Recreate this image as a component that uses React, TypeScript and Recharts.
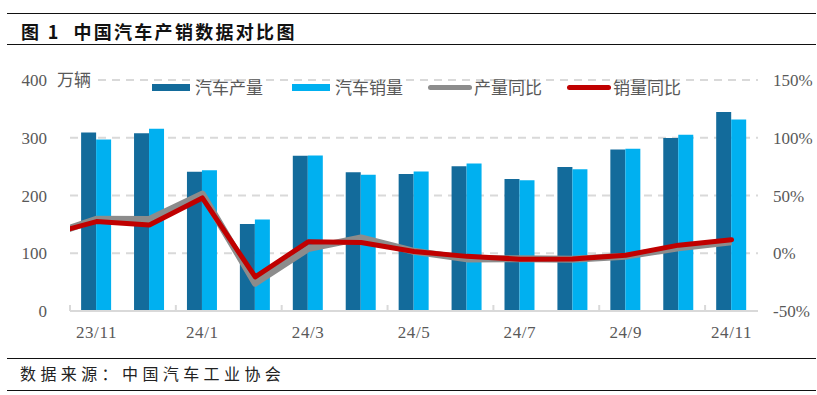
import React from "react";
import {
  ComposedChart,
  Bar,
  Line,
  XAxis,
  YAxis,
  CartesianGrid,
} from "recharts";

const categories = ["23/11", "23/12", "24/1", "24/2", "24/3", "24/4", "24/5", "24/6", "24/7", "24/8", "24/9", "24/10", "24/11"];
const production = [309.3, 307.7, 241.0, 150.7, 268.7, 240.3, 237.2, 250.7, 228.6, 249.2, 279.6, 299.6, 344.6];
const sales = [297.0, 315.6, 243.9, 158.4, 269.4, 235.9, 241.7, 255.3, 226.2, 245.3, 280.9, 305.3, 331.6];

// YoY lines include the month before the first category (23/10), clipped at the plot edge
const lineMonthIndex = [-1, 0, 1, 2, 3, 4, 5, 6, 7, 8, 9, 10, 11, 12];
const productionYoY = [14.0, 29.4, 29.2, 51.2, -25.9, 4.0, 13.3, 1.7, -4.9, -4.8, -5.1, -2.5, 4.8, 10.0];
const salesYoY = [15.0, 27.4, 24.5, 47.9, -20.5, 9.9, 9.3, 1.5, -2.7, -5.1, -4.9, -1.7, 7.0, 11.7];

const leftTicks = [0, 100, 200, 300, 400];
const rightTicks = [-50, 0, 50, 100, 150];

const barData = categories.map((c, i) => ({ cat: c, prod: production[i], sales: sales[i] }));
const lineData = lineMonthIndex.map((m, i) => ({ m, prodYoY: productionYoY[i], salesYoY: salesYoY[i] }));

const DARK = "#136B9B";
const LIGHT = "#00B0F0";
const GREY = "#8C8C8C";
const RED = "#C00000";
const TXT = "#595959";

const CHART_W = 817;
const CHART_H = 395;
const LEFT_W = 70;
const RIGHT_W = 59;
const PLOT_W = CHART_W - LEFT_W - RIGHT_W;
const HALF_BAND = PLOT_W / categories.length / 2;

const numFont = "'Liberation Serif', serif";
const cjkFont = "'Noto Sans CJK SC', sans-serif";

const XTick = (props: any) => {
  const { x, y, payload } = props;
  return (
    <g>
      <line x1={x - HALF_BAND} x2={x - HALF_BAND} y1={311} y2={305} stroke="#d9d9d9" strokeWidth={2} />
      <text x={x} y={338} textAnchor="middle" fill={TXT} fontSize={17} fontFamily={numFont} letterSpacing={0.6}>
        {payload.value}
      </text>
    </g>
  );
};

const LegendItem = ({ left, kind, color, label }: { left: number; kind: "bar" | "line"; color: string; label: string }) => (
  <div style={{ position: "absolute", left, top: 77, height: 20, display: "flex", alignItems: "center" }}>
    {kind === "bar" ? (
      <div style={{ width: 38, height: 7, background: color, marginRight: 5 }} />
    ) : (
      <div style={{ width: 44, height: 5, background: color, borderRadius: 3, marginRight: 2 }} />
    )}
    <span style={{ fontFamily: cjkFont, fontSize: 17, color: TXT, lineHeight: "20px", whiteSpace: "nowrap" }}>{label}</span>
  </div>
);

export default function App() {
  return (
    <div style={{ position: "absolute", left: 0, top: 0, width: CHART_W, height: CHART_H, background: "#fff", overflow: "hidden" }}>
      <div style={{ position: "absolute", left: 7, right: 1, top: 13, height: 0, borderTop: "1.5px solid #111" }} />
      <div
        style={{
          position: "absolute",
          left: 21,
          top: 19,
          fontFamily: cjkFont,
          fontWeight: 700,
          fontSize: 18,
          letterSpacing: 2.3,
          color: "#111",
          lineHeight: "24px",
          whiteSpace: "nowrap",
        }}
      >
        图 1&nbsp;&nbsp;中国汽车产销数据对比图
      </div>
      <div style={{ position: "absolute", left: 7, right: 1, top: 44, height: 0, borderTop: "1.5px solid #111" }} />

      <div style={{ position: "absolute", left: 0, top: 0 }}>
        <ComposedChart
          width={CHART_W}
          height={CHART_H}
          data={barData}
          margin={{ top: 80, right: 0, bottom: 0, left: 0 }}
          barCategoryGap="21%"
          barGap={0}
        >
          <CartesianGrid vertical={false} yAxisId="left" stroke="#d9d9d9" strokeWidth={2} strokeDasharray="8 6" />
          <XAxis
            dataKey="cat"
            xAxisId="bar"
            interval={1}
            tickLine={false}
            axisLine={{ stroke: "#d9d9d9", strokeWidth: 2 }}
            tick={<XTick />}
            height={84}
          />
          <XAxis
            xAxisId="line"
            type="number"
            dataKey="m"
            domain={[-0.5, 12.5]}
            allowDataOverflow
            hide
          />
          <YAxis
            yAxisId="left"
            width={LEFT_W}
            domain={[0, 400]}
            ticks={leftTicks}
            axisLine={false}
            tickLine={false}
            tickSize={0}
            tickMargin={23}
            tick={{ fill: TXT, fontSize: 17, fontFamily: numFont }}
          />
          <YAxis
            yAxisId="right"
            orientation="right"
            width={RIGHT_W}
            domain={[-50, 150]}
            ticks={rightTicks}
            axisLine={false}
            tickLine={false}
            tickSize={0}
            tickMargin={15}
            tickFormatter={(v: number) => `${v}%`}
            tick={{ fill: TXT, fontSize: 17, fontFamily: numFont, textAnchor: "start" }}
          />
          <Bar xAxisId="bar" yAxisId="left" dataKey="prod" fill={DARK} isAnimationActive={false} />
          <Bar xAxisId="bar" yAxisId="left" dataKey="sales" fill={LIGHT} isAnimationActive={false} />
          <Line
            xAxisId="line"
            yAxisId="right"
            data={lineData}
            dataKey="prodYoY"
            type="linear"
            stroke={GREY}
            strokeWidth={7}
            dot={false}
            activeDot={false}
            strokeLinejoin="round"
            isAnimationActive={false}
          />
          <Line
            xAxisId="line"
            yAxisId="right"
            data={lineData}
            dataKey="salesYoY"
            type="linear"
            stroke={RED}
            strokeWidth={5}
            dot={false}
            activeDot={false}
            strokeLinecap="round"
            strokeLinejoin="round"
            isAnimationActive={false}
          />
        </ComposedChart>
      </div>

      <div
        style={{
          position: "absolute",
          left: 54,
          top: 68,
          padding: "0 3px",
          background: "#fff",
          fontFamily: cjkFont,
          fontSize: 17,
          color: TXT,
          lineHeight: "22px",
        }}
      >
        万辆
      </div>
      <LegendItem left={152} kind="bar" color={DARK} label="汽车产量" />
      <LegendItem left={292} kind="bar" color={LIGHT} label="汽车销量" />
      <LegendItem left={428} kind="line" color={GREY} label="产量同比" />
      <LegendItem left={567} kind="line" color={RED} label="销量同比" />

      <div style={{ position: "absolute", left: 7, right: 1, top: 358, height: 0, borderTop: "1.5px solid #111" }} />
      <div
        style={{
          position: "absolute",
          left: 20,
          top: 362,
          fontFamily: cjkFont,
          fontSize: 16,
          letterSpacing: 4.4,
          color: "#222",
          lineHeight: "22px",
          whiteSpace: "nowrap",
        }}
      >
        数据来源：中国汽车工业协会
      </div>
      <div style={{ position: "absolute", left: 7, right: 1, top: 390, height: 0, borderTop: "1.5px solid #111" }} />
    </div>
  );
}
